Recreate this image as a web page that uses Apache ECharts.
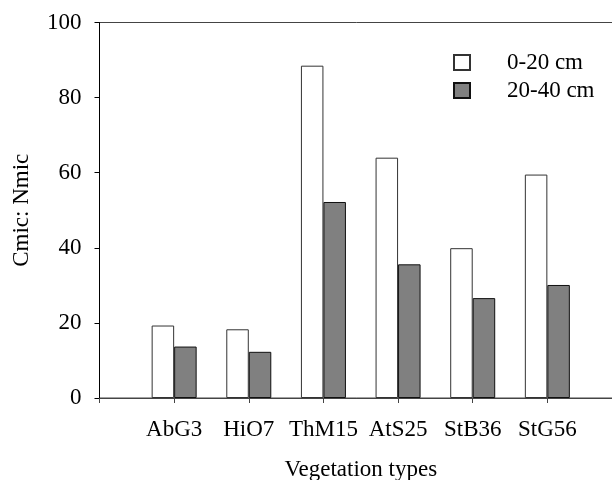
<!DOCTYPE html>
<html>
<head>
<meta charset="utf-8">
<script src="https://cdn.jsdelivr.net/npm/echarts@6/dist/echarts.min.js"></script>
<style>
  html, body { margin: 0; padding: 0; background: #fff; }
  #chart { width: 612px; height: 480px; }
</style>
</head>
<body>
<div id="chart"></div>
<script>
// categories (empty slots at both ends keep the first group one step in from the axis)
const categories = ['', 'AbG3', 'HiO7', 'ThM15', 'AtS25', 'StB36', 'StG56', '']
const depth0to20 = ['-', 19.3, 18.3, 88.5, 64.0, 39.9, 59.5, '-']
const depth20to40 = ['-', 13.7, 12.3, 52.2, 35.6, 26.6, 30.1, '-']
const yTicks = [0, 20, 40, 60, 80, 100]

const font = 'Liberation Serif'
const myChart = echarts.init(document.getElementById('chart'))

myChart.setOption({
  animation: false,
  textStyle: { fontFamily: font, color: '#000' },
  grid: {
    left: 99.5,
    right: -10,
    top: 22.5,
    bottom: 82,
    show: true,
    borderColor: '#444',
    borderWidth: 1,
    containLabel: false,
    outerBoundsMode: 'none',
  },
  legend: {
    orient: 'vertical',
    left: 453,
    top: 51,
    padding: 0,
    icon: 'rect',
    itemWidth: 16,
    itemHeight: 15,
    itemGap: 5,
    textStyle: {
      fontFamily: font,
      fontSize: 23,
      color: '#000',
      padding: [0, 0, 0, 32],
    },
    data: ['0-20 cm', '20-40 cm'],
  },
  xAxis: {
    type: 'category',
    boundaryGap: false,
    data: categories,
    name: 'Vegetation types',
    nameLocation: 'middle',
    nameGap: 60,
    nameTextStyle: { fontFamily: font, fontSize: 23, color: '#000' },
    axisLine: { lineStyle: { color: '#444', width: 1 } },
    axisTick: { show: true, interval: 0, length: 5, lineStyle: { color: '#444' } },
    axisLabel: { interval: 0, margin: 20, fontFamily: font, fontSize: 23, color: '#000' },
    splitLine: { show: false },
  },
  yAxis: {
    type: 'value',
    min: yTicks[0],
    max: yTicks[yTicks.length - 1],
    interval: 20,
    name: 'Cmic: Nmic',
    nameLocation: 'middle',
    nameRotate: 90,
    nameGap: 66,
    nameTextStyle: { fontFamily: font, fontSize: 23, color: '#000' },
    axisLine: { show: true, lineStyle: { color: '#000', width: 1 } },
    axisTick: { show: true, inside: false, length: 5, lineStyle: { color: '#000' } },
    axisLabel: { margin: 18, fontFamily: font, fontSize: 23, color: '#000' },
    splitLine: { show: false },
  },
  series: [
    {
      name: '0-20 cm',
      type: 'bar',
      barWidth: 22.5,
      barGap: 0,
      itemStyle: { color: '#fff', borderColor: '#333', borderWidth: 1 },
      data: depth0to20,
    },
    {
      name: '20-40 cm',
      type: 'bar',
      barWidth: 22.5,
      itemStyle: { color: '#808080', borderColor: '#111', borderWidth: 1 },
      data: depth20to40,
    },
  ],
})
</script>
</body>
</html>
